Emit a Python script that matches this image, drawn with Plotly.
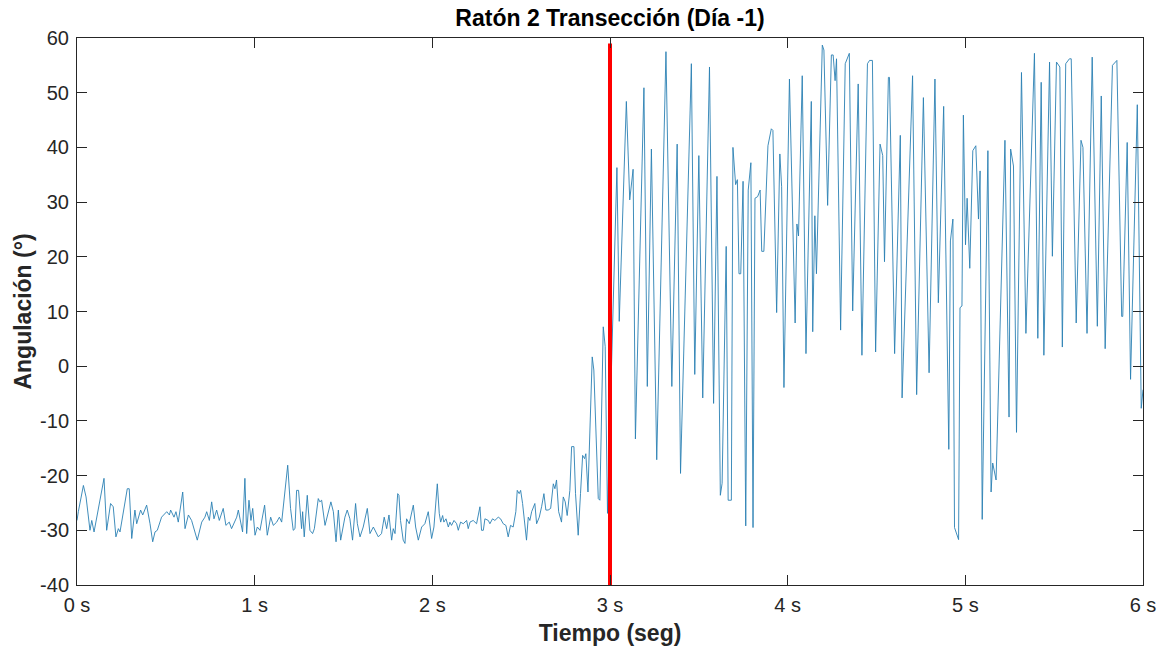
import plotly.graph_objects as go

# ---- data (time in s, angle in degrees) ----
t_0_1 = [0.000, 0.0075, 0.036, 0.051, 0.073, 0.083, 0.096, 0.111, 0.152, 0.167,
         0.189, 0.204, 0.219, 0.233, 0.242, 0.283, 0.294, 0.308, 0.326, 0.336,
         0.358, 0.370, 0.392, 0.411, 0.426, 0.439, 0.452, 0.476, 0.505, 0.520,
         0.527, 0.546, 0.557, 0.570, 0.595, 0.608, 0.627, 0.645, 0.677, 0.702,
         0.720, 0.730, 0.745, 0.758, 0.771, 0.786, 0.801, 0.823, 0.838, 0.857,
         0.870, 0.899, 0.908, 0.932, 0.945, 0.955, 0.968, 0.979, 0.989, 1.002,
         1.015, 1.030]
a_0_1 = [-28.2, -26.6, -21.8, -23.9, -30.0, -28.2, -30.3, -27.6, -20.5, -30.0,
         -25.1, -25.7, -31.2, -29.7, -30.3, -22.4, -22.4, -31.5, -26.3, -28.8,
         -26.3, -27.2, -25.4, -28.8, -32.1, -30.3, -30.0, -27.6, -26.6, -27.2,
         -26.3, -27.6, -26.6, -28.5, -23.0, -29.7, -27.2, -28.2, -31.8, -28.5,
         -27.6, -26.6, -28.2, -24.8, -27.9, -26.3, -28.2, -26.0, -29.1, -28.5,
         -29.7, -27.6, -26.3, -30.3, -20.5, -30.6, -24.5, -28.2, -26.0, -30.9,
         -29.4, -30.0]

t_1_2 = [1.056, 1.071, 1.090, 1.105, 1.124, 1.139, 1.152, 1.186, 1.202, 1.217,
         1.227, 1.236, 1.247, 1.264, 1.270, 1.279, 1.296, 1.311, 1.326, 1.336,
         1.358, 1.367, 1.377, 1.396, 1.429, 1.443, 1.458, 1.471, 1.484, 1.508,
         1.521, 1.536, 1.551, 1.568, 1.578, 1.593, 1.611, 1.634, 1.649, 1.668,
         1.696, 1.714, 1.729, 1.743, 1.756, 1.771, 1.780, 1.790, 1.805, 1.812,
         1.821, 1.836, 1.846, 1.855, 1.870, 1.893, 1.906, 1.921, 1.940, 1.958,
         1.977, 1.996, 2.009, 2.028]
a_1_2 = [-25.4, -30.9, -27.6, -29.1, -28.5, -27.6, -28.5, -18.1, -26.0, -30.0,
         -29.7, -22.7, -22.7, -29.7, -26.6, -31.2, -23.6, -30.0, -30.6, -29.7,
         -24.2, -24.8, -24.5, -29.1, -24.8, -26.6, -32.1, -26.3, -31.8, -27.6,
         -26.3, -27.9, -31.8, -25.1, -28.8, -31.2, -29.4, -26.0, -30.6, -29.4,
         -31.2, -30.6, -27.6, -29.7, -27.2, -31.8, -29.7, -30.6, -23.3, -23.6,
         -28.2, -31.8, -32.4, -27.9, -28.8, -25.4, -29.4, -31.8, -29.4, -28.8,
         -26.6, -31.5, -29.4, -21.5]

t_2_3 = [2.039, 2.047, 2.058, 2.065, 2.077, 2.090, 2.099, 2.108, 2.122, 2.137,
         2.146, 2.159, 2.174, 2.193, 2.202, 2.212, 2.230, 2.249, 2.268, 2.277,
         2.287, 2.296, 2.315, 2.324, 2.339, 2.352, 2.371, 2.384, 2.399, 2.414,
         2.427, 2.440, 2.455, 2.470, 2.478, 2.489, 2.497, 2.508, 2.521, 2.530,
         2.540, 2.549, 2.559, 2.568, 2.577, 2.587, 2.602, 2.615, 2.628, 2.639,
         2.652, 2.666, 2.681, 2.690, 2.699, 2.711, 2.727, 2.737, 2.748, 2.759,
         2.774, 2.784, 2.797, 2.806, 2.821, 2.834, 2.846, 2.857, 2.864, 2.876,
         2.887, 2.900, 2.909, 2.921, 2.934, 2.943, 2.953, 2.962, 2.973, 2.986]
a_2_3 = [-26.9, -28.5, -27.3, -28.5, -27.9, -29.4, -28.5, -29.1, -28.2, -28.8,
         -30.0, -28.5, -28.8, -28.2, -29.7, -28.5, -28.2, -28.8, -25.7, -30.0,
         -30.0, -27.9, -28.2, -28.8, -27.9, -28.2, -27.6, -27.9, -28.8, -29.1,
         -31.2, -29.1, -29.4, -26.6, -22.7, -23.3, -22.7, -25.1, -29.1, -31.8,
         -27.6, -28.2, -26.6, -26.0, -25.1, -28.8, -27.6, -25.7, -23.3, -26.3,
         -26.3, -26.0, -21.5, -22.4, -20.8, -26.6, -28.5, -23.9, -24.8, -27.3,
         -22.7, -14.7, -14.7, -23.3, -30.9, -23.3, -16.3, -16.9, -16.0, -23.0,
         -9.9, 1.7, -0.7, -13.5, -24.2, -24.5, -8.6, 7.2, 3.6, -26.9]

t_3_4 = [3.039, 3.052, 3.092, 3.111, 3.130, 3.143, 3.191, 3.210, 3.233, 3.263,
         3.315, 3.348, 3.378, 3.397, 3.458, 3.477, 3.500,
         3.522, 3.560, 3.583, 3.602, 3.621, 3.631, 3.654, 3.665, 3.683, 3.692,
         3.707, 3.717, 3.726, 3.736, 3.749, 3.764, 3.778, 3.793, 3.805, 3.816,
         3.831, 3.845, 3.854, 3.866, 3.889, 3.908, 3.917, 3.938,
         3.956, 3.966, 3.979]
a_3_4 = [36.3, 8.2, 48.4, 30.4, 36.0, -13.3, 50.9, -3.7, 39.7, -17.1,
         57.5, -3.7, 40.6, -19.6, 55.3, -1.5, 38.5,
         -5.8, 54.7, -6.8, 34.7, -23.6, -21.4, 21.9, -24.5, -24.5, 40.0,
         33.2, 34.1, 16.9, 16.9, 33.8, -29.2, 32.2, 37.2, -29.5, 30.7,
         31.0, 32.2, 21.0, 21.0, 40.3, 43.4, 43.1, 9.8,
         38.8, 32.8, -3.9]

t_4_5 = [4.010, 4.042, 4.052, 4.061, 4.082, 4.103, 4.133, 4.141, 4.153, 4.162,
         4.195, 4.204, 4.225, 4.246, 4.256, 4.267, 4.275, 4.298, 4.324, 4.347,
         4.366, 4.397, 4.418, 4.449, 4.461, 4.477, 4.495,
         4.520, 4.535, 4.545, 4.567, 4.573, 4.602, 4.634, 4.644, 4.703, 4.726,
         4.764, 4.796, 4.829, 4.848, 4.878, 4.907, 4.916, 4.930, 4.939, 4.962,
         4.970, 4.981, 4.989]
a_4_5 = [52.5, 7.9, 26.0, 23.8, 53.1, 2.3, 48.4, 6.3, 27.5, 16.9,
         58.7, 57.8, 29.4, 56.9, 56.9, 52.2, 56.2, 6.6, 55.3, 57.2,
         10.1, 51.6, 2.0, 55.3, 55.9, 55.9, 2.6,
         40.6, 38.5, 19.1, 52.8, 52.8, 2.3, 42.2, -5.8, 53.1, -5.2,
         49.1, -1.2, 52.5, 11.6, 47.5, -15.2, 22.9, 26.9, -29.5, -31.7,
         10.7, 11.0, 45.9]

t_5_6 = [5.001, 5.010, 5.025, 5.042, 5.059, 5.074, 5.083, 5.095, 5.127, 5.145,
         5.154, 5.173, 5.223, 5.246, 5.255, 5.271, 5.288, 5.316, 5.341, 5.389,
         5.408, 5.427, 5.442, 5.474, 5.490, 5.513, 5.532,
         5.546, 5.565, 5.586, 5.596, 5.624, 5.651, 5.662, 5.685, 5.714, 5.743,
         5.765, 5.787, 5.828, 5.853, 5.880, 5.886, 5.911, 5.930, 5.968, 5.990,
         6.000]
a_5_6 = [22.2, 30.7, 17.9, 39.4, 40.3, 26.9, 35.7, -28.0, 39.4, -23.0,
         -17.7, -20.8, 41.3, -9.3, 39.7, 36.6, -12.1, 53.7, 6.0, 57.2,
         5.1, 51.9, 2.0, 55.6, 20.1, 55.6, 54.7,
         3.5, 55.3, 56.2, 56.2, 7.9, 41.3, 40.0, 6.0, 56.5, 7.3,
         49.4, 3.2, 55.0, 55.9, 9.1, 9.1, 40.9, -2.4, 47.8, -7.7,
         -4.3]

cut_time = 3.0          # transection marker (s)
cut_span = [-40, 59]    # vertical extent of the marker (deg)

x_ticks = [0, 1, 2, 3, 4, 5, 6]
x_labels = ["0 s", "1 s", "2 s", "3 s", "4 s", "5 s", "6 s"]
y_ticks = [-40, -30, -20, -10, 0, 10, 20, 30, 40, 50, 60]
y_labels = ["-40", "-30", "-20", "-10", "0", "10", "20", "30", "40", "50", "60"]

title_text = "Ratón 2 Transección (Día -1)"
x_title = "Tiempo (seg)"
y_title = "Angulación (°)"

# ---- build ----
time = t_0_1 + t_1_2 + t_2_3 + t_3_4 + t_4_5 + t_5_6
angle = a_0_1 + a_1_2 + a_2_3 + a_3_4 + a_4_5 + a_5_6
n = min(len(time), len(angle))
time, angle = time[:n], angle[:n]

FONT = "Liberation Sans, Arial, sans-serif"
AX = "#262626"

fig = go.Figure()
fig.add_trace(go.Scatter(x=time, y=angle, mode="lines",
                         line=dict(color="#2a80b3", width=0.9),
                         showlegend=False, hoverinfo="x+y"))
fig.add_trace(go.Scatter(x=[cut_time, cut_time], y=cut_span, mode="lines",
                         line=dict(color="#FF0000", width=4),
                         showlegend=False))

axis_common = dict(showgrid=False, zeroline=False, showline=True,
                   linecolor=AX, linewidth=1, mirror="ticks",
                   ticks="inside", ticklen=10, tickwidth=1, tickcolor=AX,
                   automargin=False,
                   tickfont=dict(family=FONT, size=20, color=AX))

fig.update_layout(
    width=1164, height=651,
    margin=dict(l=77, r=21, t=38, b=66),
    paper_bgcolor="white", plot_bgcolor="white",
    title=dict(text=f"<b>{title_text}</b>", x=0.5, xref="paper",
               y=1 - 18 / 651, yref="container", yanchor="middle",
               xanchor="center",
               font=dict(family=FONT, size=23, color="black")),
    xaxis=dict(range=[0, 6], tickvals=x_ticks, ticktext=x_labels,
               ticklabelstandoff=2,
               title=dict(text=f"<b>{x_title}</b>", standoff=9,
                          font=dict(family=FONT, size=23, color=AX)),
               **axis_common),
    yaxis=dict(range=[-40, 60], tickvals=y_ticks, ticktext=y_labels,
               ticklabelstandoff=3,
               title=dict(text=f"<b>{y_title}</b>", standoff=2,
                          font=dict(family=FONT, size=23, color=AX)),
               **axis_common),
)

fig.write_html("out.html")
